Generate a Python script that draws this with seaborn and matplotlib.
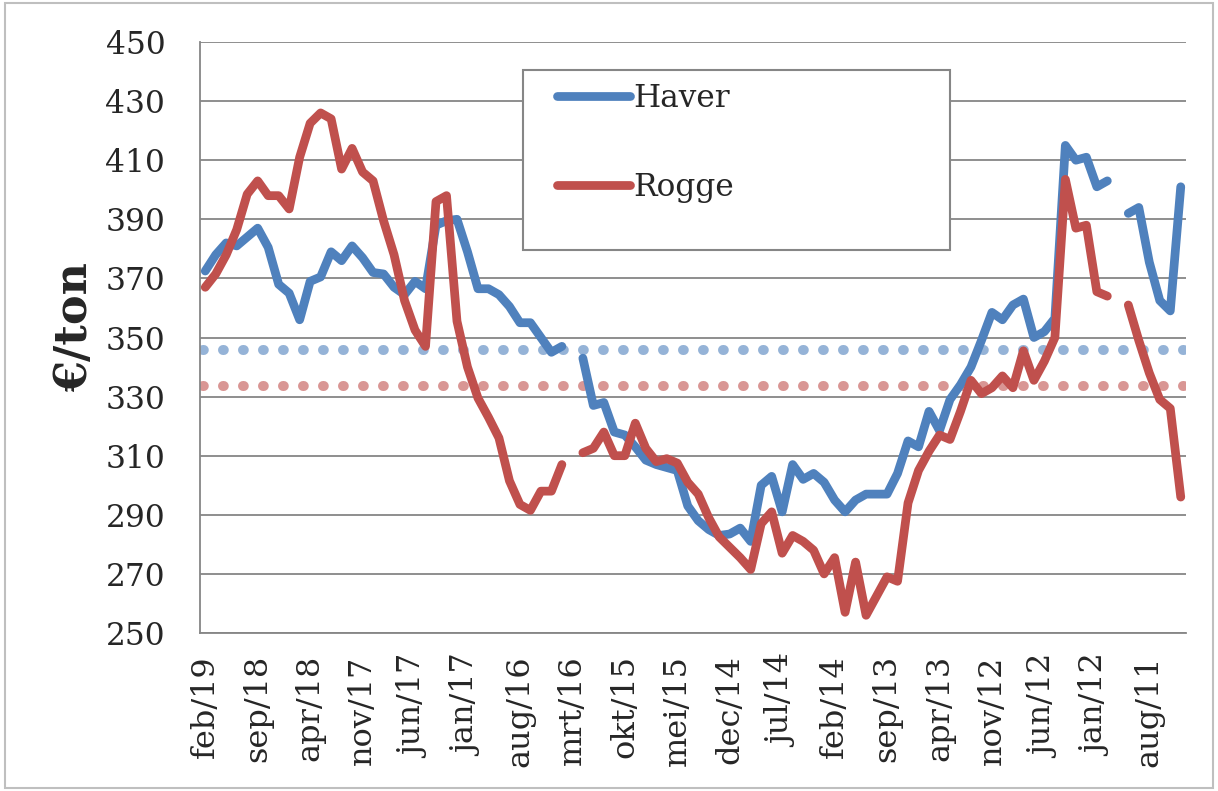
import numpy as np
import pandas as pd
import matplotlib
matplotlib.use('Agg')
import matplotlib.pyplot as plt
from matplotlib.lines import Line2D
from matplotlib.patches import Rectangle
import seaborn as sns

# maanden: nieuwste links (feb/19) naar oudste rechts (mei/11)
maanden_nl = ['jan', 'feb', 'mrt', 'apr', 'mei', 'jun',
              'jul', 'aug', 'sep', 'okt', 'nov', 'dec']
datums = pd.date_range('2011-05-01', '2019-02-01', freq='MS')[::-1]
maand_labels = [f"{maanden_nl[d.month - 1]}/{d.strftime('%y')}" for d in datums]

haver = [372.5, 378, 382, 381, 384, 387, 380.5, 368, 365, 356,
         369, 370.5, 379, 376, 381, 377, 372, 371.5, 367, 364.5,
         369, 366.5, 388, 389.5, 390, 379, 366.5, 366.5, 364.5, 360.5,
         355, 355, 350, 345, 347, np.nan, 343, 327, 328, 318,
         317, 313, 308.5, 307, 306, 305, 293, 288, 285, 283,
         283.5, 285.5, 281, 300, 303, 291, 307, 302, 304, 301,
         295, 291, 295, 297, 297, 297, 304, 315, 313, 325,
         318.5, 329, 334, 340, 349, 358.5, 356, 361, 363, 350,
         352, 356.5, 415, 410, 411, 401, 403, np.nan, 392, 394,
         375.5, 362.5, 359, 401]
rogge = [367, 371.5, 378, 386.5, 398.5, 403, 398, 398, 393.5, 411,
         422.5, 426, 424, 407, 414, 406, 403, 389.5, 378, 362.5,
         352.5, 347, 396, 398, 355.5, 340, 329.5, 323, 316, 301.5,
         293.5, 291.5, 298, 298, 307, np.nan, 311, 312.5, 318, 310,
         310, 321, 312.5, 308, 309, 307.5, 301, 297, 289, 282.5,
         279, 275.5, 271.5, 287, 291, 277, 283, 281, 278, 270,
         275.5, 257, 274, 256, 262.5, 269, 267.5, 294, 305, 311.5,
         317, 315.5, 325, 335.5, 331, 333, 337, 333, 345.5, 335.5,
         342, 350, 403.5, 387, 388, 365.5, 364, np.nan, 361, 349,
         338, 329, 326, 296]

gem_haver = 345.8
gem_rogge = 333.6

kleuren = {'Haver': '#4F81BD', 'Rogge': '#C0504D'}
gem_kleuren = {'Haver': '#95B3D7', 'Rogge': '#D99694'}

# lange tabel, met segmenten zodat ontbrekende maanden een gat geven
frames = []
for naam, waarden in [('Haver', haver), ('Rogge', rogge)]:
    s = pd.Series(waarden, dtype=float)
    frames.append(pd.DataFrame({'idx': np.arange(len(s)), 'prijs': s,
                                'graan': naam,
                                'segment': naam + s.isna().cumsum().astype(str)}))
df = pd.concat(frames).dropna()

sns.set_style('white')
plt.rcParams['font.family'] = 'DejaVu Serif'
plt.rcParams['lines.solid_joinstyle'] = 'round'
plt.rcParams['lines.solid_capstyle'] = 'round'

fig = plt.figure(figsize=(12.18, 7.91), dpi=100)
ax = fig.add_axes([200 / 1218, 1 - 633 / 791, 986 / 1218, 591 / 791])

n = len(maand_labels)
lw = 6.3

# gemiddelden als stippellijn
for naam, gem in [('Haver', gem_haver), ('Rogge', gem_rogge)]:
    ax.plot([-0.2, n - 0.6], [gem, gem], color=gem_kleuren[naam], linewidth=7.2,
            linestyle=(0, (0.08, 1.92)), dash_capstyle='round', zorder=2)

sns.lineplot(data=df, x='idx', y='prijs', hue='graan', units='segment',
             estimator=None, palette=kleuren, linewidth=lw, legend=False,
             sort=False, ax=ax, zorder=3)

ax.set_xlim(-0.5, n - 0.5)
ax.set_ylim(250, 450)
ax.set_yticks(range(250, 451, 20))
ax.set_xticks(range(0, n, 5))
ax.set_xticklabels(maand_labels[::5], rotation=90)
ax.set_xticks(np.arange(-0.5, n, 1), minor=True)
ax.tick_params(axis='x', which='major', length=0, pad=16, labelsize=23)
ax.tick_params(axis='x', which='minor', length=7.5, width=1.3,
               color='#868686', direction='out')
ax.tick_params(axis='y', length=9, width=1.3, color='#868686',
               direction='out', pad=16, labelsize=22.5)
ax.set_xlabel('')
ax.set_ylabel('€/ton', fontsize=32, fontweight='bold')
ax.yaxis.set_label_coords(-0.127, 0.518)
ax.yaxis.label.set_va('center')

ax.yaxis.grid(True, color='#868686', linewidth=1.3)
ax.set_axisbelow(True)
for side in ['top', 'right']:
    ax.spines[side].set_visible(False)
for side in ['left', 'bottom']:
    ax.spines[side].set_color('#868686')
    ax.spines[side].set_linewidth(1.3)

# legendakader zoals in het origineel
ax.add_patch(Rectangle((0.3276, 0.648), 0.433, 0.3046, transform=ax.transAxes,
                       facecolor='white', edgecolor='#868686', linewidth=1.5,
                       zorder=4))
handles = [Line2D([], [], color=kleuren[k], linewidth=lw) for k in kleuren]
leg = ax.legend(handles, list(kleuren), loc='upper left',
                bbox_to_anchor=(0.362, 0.931), frameon=False, fontsize=22.5,
                handlelength=2.35, handletextpad=0.1, labelspacing=1.86,
                borderpad=0, borderaxespad=0)
leg.set_zorder(5)

fig.patches.append(Rectangle((0.004, 0.004), 0.992, 0.992,
                             transform=fig.transFigure, fill=False,
                             edgecolor='#bfbfbf', linewidth=1.5))

plt.savefig('out.png', dpi=100)
